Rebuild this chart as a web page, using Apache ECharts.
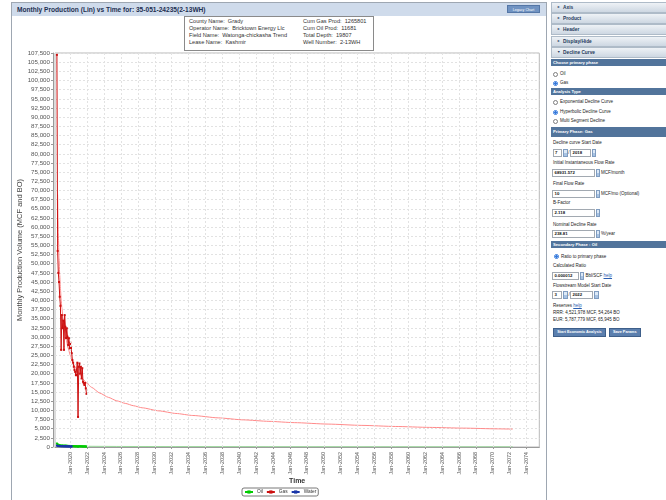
<!DOCTYPE html>
<html><head><meta charset="utf-8">
<script src="https://cdn.jsdelivr.net/npm/echarts@6/dist/echarts.min.js"></script>
<style>
body{margin:0;width:666px;height:500px;overflow:hidden;background:#fff;font-family:'Liberation Sans',Arial,sans-serif;position:relative}
.a{position:absolute;white-space:nowrap}
#panel{left:11px;top:2px;width:534px;height:520px;border:1px solid #9ea7b2;z-index:0}
#chart{left:0;top:0;width:548px;height:500px;z-index:1}
#hdr{left:12px;top:3px;width:534px;height:13px;background:#cfdbeb;z-index:2}
#title{left:17px;top:3px;line-height:13px;font-size:6.6px;font-weight:bold;color:#1d2f52;z-index:3}
#legacy{left:507px;top:5px;width:33px;height:8px;background:#7093c2;color:#fff;font-size:3.6px;line-height:8px;text-align:center;border:1px solid #5476a6;box-sizing:border-box;z-index:3}
#info{left:184px;top:16px;width:188px;height:33px;border:1px solid #8a8a8a;background:#fff;z-index:3}
.it{position:absolute;font-size:5.6px;color:#333;white-space:pre;line-height:7px}
.acc{position:absolute;left:551px;width:116px;height:11px;box-sizing:border-box;border:1px solid #aebbc8;background:linear-gradient(#eef2f6,#cdd7e2);font-size:4.8px;font-weight:bold;color:#253a5a;line-height:9px;z-index:3}
.acc .ar{position:absolute;left:5px;font-size:3.5px}
.acc .tx{position:absolute;left:11px}
.sec{position:absolute;left:551px;width:116px;height:7px;background:#52749b;color:#fff;font-size:4.2px;font-weight:bold;line-height:7px;padding-left:2px;box-sizing:border-box;z-index:3}
.t{position:absolute;font-size:4.5px;color:#222;line-height:8px;height:8px;white-space:nowrap;z-index:3}
.rd{position:absolute;width:5px;height:5px;border-radius:50%;border:0.8px solid #7d7d7d;box-sizing:border-box;background:#fff;z-index:3}
.rd.on{border:1px solid #3479dc;background:radial-gradient(circle,#3479dc 0 1.2px,#fff 1.3px)}
.in{position:absolute;height:8px;box-sizing:border-box;border:1px solid #a2a9b1;background:#fff;font-size:4.3px;font-weight:bold;line-height:6px;padding-left:1.5px;color:#111;z-index:3}
.sp{position:absolute;width:4.5px;height:8px;box-sizing:border-box;border:0.8px solid #7f9cc0;background:linear-gradient(#dce9f7 50%,#a8c3e3 50%);z-index:3}
.hl{color:#2a5db0;text-decoration:underline}
.btn{position:absolute;height:9px;box-sizing:border-box;background:#5b7fae;border:1px solid #3e5f8a;color:#fff;font-size:3.8px;font-weight:bold;line-height:7px;text-align:center;z-index:3}
</style>
</head><body>
<div id="panel" class="a"></div>
<div id="chart" class="a"></div>
<div id="hdr" class="a"></div>
<div id="title" class="a">Monthly Production (Lin) vs Time for: 35-051-24235(2-13WH)</div>
<div id="legacy" class="a">Legacy Chart</div>
<div id="info" class="a">
 <div class="it" style="left:4px;top:1px">County Name:  Grady</div>
 <div class="it" style="left:4px;top:8px">Operator Name:  Bricktown Energy Llc</div>
 <div class="it" style="left:4px;top:15px">Field Name:  Watonga-chickasha Trend</div>
 <div class="it" style="left:4px;top:22px">Lease Name:  Kashmir</div>
 <div class="it" style="left:118px;top:1px">Cum Gas Prod:  1265801</div>
 <div class="it" style="left:118px;top:8px">Cum Oil Prod:  11681</div>
 <div class="it" style="left:118px;top:15px">Total Depth:  19807</div>
 <div class="it" style="left:118px;top:22px">Well Number:  2-13WH</div>
</div>

<div class="acc" style="top:2px"><span class="ar">►</span><span class="tx">Axis</span></div>
<div class="acc" style="top:13.2px"><span class="ar">►</span><span class="tx">Product</span></div>
<div class="acc" style="top:24.4px"><span class="ar">►</span><span class="tx">Header</span></div>
<div class="acc" style="top:35.6px"><span class="ar">►</span><span class="tx">Display/Hide</span></div>
<div class="acc" style="top:46.8px"><span class="ar">▼</span><span class="tx">Decline Curve</span></div>

<div class="sec" style="top:59px">Choose primary phase</div>
<div class="rd" style="left:553.3px;top:71.5px"></div><div class="t" style="left:560px;top:70px">Oil</div>
<div class="rd on" style="left:553.3px;top:80.8px"></div><div class="t" style="left:560px;top:79.3px">Gas</div>
<div class="sec" style="top:87.5px">Analysis Type</div>
<div class="rd" style="left:553.3px;top:99.5px"></div><div class="t" style="left:560px;top:98px">Exponential Decline Curve</div>
<div class="rd on" style="left:553.3px;top:109.5px"></div><div class="t" style="left:560px;top:108px">Hyperbolic Decline Curve</div>
<div class="rd" style="left:553.3px;top:118.5px"></div><div class="t" style="left:560px;top:117px">Multi Segment Decline</div>
<div class="sec" style="top:127px;height:9.5px;line-height:9.5px">Primary Phase: Gas</div>
<div class="t" style="left:553px;top:138.7px">Decline curve Start Date</div>
<div class="in" style="left:552.5px;top:148.7px;width:9.5px">7</div><div class="sp" style="left:563px;top:148.7px"></div>
<div class="t" style="left:568.3px;top:148.7px">/</div>
<div class="in" style="left:570px;top:148.7px;width:20.5px">2018</div><div class="sp" style="left:591.5px;top:148.7px"></div>
<div class="t" style="left:553px;top:159px">Initial Instantaneous Flow Rate</div>
<div class="in" style="left:552px;top:169.3px;width:43px">68931.572</div><div class="sp" style="left:595.5px;top:169.3px"></div>
<div class="t" style="left:601px;top:169.3px">MCF/month</div>
<div class="t" style="left:553px;top:180.3px">Final Flow Rate</div>
<div class="in" style="left:552px;top:189.5px;width:43px">10</div><div class="sp" style="left:595.5px;top:189.5px"></div>
<div class="t" style="left:601px;top:189.5px">MCF/mo (Optional)</div>
<div class="t" style="left:553px;top:199px">B-Factor</div>
<div class="in" style="left:552px;top:208.5px;width:43px">2.118</div><div class="sp" style="left:595.5px;top:208.5px"></div>
<div class="t" style="left:553px;top:220.5px">Nominal Decline Rate</div>
<div class="in" style="left:552px;top:230px;width:43px">238.81</div><div class="sp" style="left:595.5px;top:230px"></div>
<div class="t" style="left:601px;top:230px">%/year</div>
<div class="sec" style="top:240.5px">Secondary Phase : Oil</div>
<div class="rd on" style="left:554px;top:254.2px"></div><div class="t" style="left:561px;top:252.7px">Ratio to primary phase</div>
<div class="t" style="left:553px;top:262px">Calculated Ratio</div>
<div class="in" style="left:552px;top:272px;width:26.5px">0.000012</div><div class="sp" style="left:579.5px;top:272px"></div>
<div class="t" style="left:585.5px;top:272px">Bbl/SCF <span class="hl">help</span></div>
<div class="t" style="left:553px;top:282px">Flowstream Model Start Date</div>
<div class="in" style="left:552px;top:291.3px;width:10px">3</div><div class="sp" style="left:563px;top:291.3px"></div>
<div class="t" style="left:568.5px;top:291.3px">/</div>
<div class="in" style="left:570px;top:291.3px;width:23px">2022</div><div class="sp" style="left:594px;top:291.3px"></div>
<div class="t" style="left:553px;top:301.7px">Reserves <span class="hl">help</span></div>
<div class="t" style="left:553px;top:308.7px">RRR: 4,521,978 MCF, 54,264 BO</div>
<div class="t" style="left:553px;top:316px">EUR: 5,787,779 MCF, 65,945 BO</div>
<div class="btn" style="left:553px;top:328px;width:53px">Start Economic Analysis</div>
<div class="btn" style="left:609px;top:328px;width:31.5px">Save Params</div>

<script>
// ---- data ----
const gasDates = ['2018-06','2018-07','2018-08','2018-09','2018-10','2018-11','2018-12','2019-01','2019-02','2019-03','2019-04','2019-05','2019-06','2019-07','2019-08','2019-09','2019-10','2019-11','2019-12','2020-01','2020-02','2020-03','2020-04','2020-05','2020-06','2020-07','2020-08','2020-09','2020-10','2020-11','2020-12','2021-01','2021-02','2021-03','2021-04','2021-05','2021-06','2021-07','2021-08','2021-09','2021-10','2021-11','2021-12'];
const gasValues = [107000,53500,47500,45000,41000,38500,26500,36000,32400,34500,26500,36000,32800,29700,32400,30100,27800,29700,26900,28500,27000,25600,23700,23000,21900,21000,20500,19600,19600,23000,8200,21900,22800,20000,21900,18700,21500,17800,17400,16900,17500,16000,14500];

const oilDates = gasDates;
const oilValues = [950,720,610,540,480,420,300,400,360,370,290,380,350,330,330,310,290,280,300,280,260,270,250,240,230,210,200,195,190,210,90,220,200,210,180,200,170,160,160,165,150,140,130];

const waterDates = ['2018-06','2018-07','2018-08','2018-09','2018-10','2018-11','2018-12','2019-01','2019-02','2019-03','2019-04','2019-05','2019-06','2019-07','2019-08','2019-09','2019-10','2019-11','2019-12','2020-01','2020-02','2020-03'];
const waterValues = [400,300,280,260,250,240,230,220,220,210,200,200,190,190,180,180,170,170,170,160,160,150];

const gasFcstDates = ['2018-07','2018-08','2018-09','2018-10','2018-11','2018-12','2019-01','2019-03','2019-05','2019-07','2019-10','2020-01','2020-04','2020-07','2021-01','2021-07','2022-01','2022-07','2023-07','2024-07','2025-07','2026-07','2027-07','2028-07','2030-07','2032-07','2034-07','2037-07','2040-07','2043-07','2046-07','2050-07','2054-07','2058-07','2062-07','2066-07','2070-07','2072-05'];
const gasFcstValues = [68900,58400,51650,46850,43200,40350,38000,34350,31600,29450,26900,25000,23400,22100,20050,18500,17300,16300,14700,13550,12600,11900,11250,10700,9850,9150,8600,7950,7400,7000,6650,6250,5900,5600,5350,5150,4950,4880];

const oilFcstDates = ['2022-03','2025-07','2032-07','2043-07','2058-07','2072-05'];
const oilFcstValues = [200,150,110,84,67,59];

const xTickYears = [2020,2022,2024,2026,2028,2030,2032,2034,2036,2038,2040,2042,2044,2046,2048,2050,2052,2054,2056,2058,2060,2062,2064,2066,2068,2070,2072,2074];
const legendNames = ['Oil','Gas','Water'];

// ---- build ----
const toYear = s => { const p = s.split('-').map(Number); return p[0] + (p[1]-1)/12; };
const pairs = (d, v) => d.map((s, i) => [toYear(s), v[i]]);

const chart = echarts.init(document.getElementById('chart'), null, {renderer:'canvas'});
const ff = "'Liberation Sans', Arial, sans-serif";
const gridLine = {color:'#e2e2e2', type:[2,2], width:1};
chart.setOption({
  animation:false,
  textStyle:{fontFamily:ff},
  grid:{left:55, top:53, right:8.7, bottom:53, show:true, borderColor:'#b8b8b8', borderWidth:1, containLabel:false},
  legend:{data:legendNames, left:242, top:488, itemWidth:8, itemHeight:4, itemGap:3, padding:[1.5,2,1.5,2],
    borderColor:'#555', borderWidth:0.8, borderRadius:2,
    textStyle:{fontSize:4.8, color:'#333', fontFamily:ff, padding:[0,0,0,-1]}},
  xAxis:{type:'value', min:2018.19, max:2075.49, offset:2,
    name:'Time', nameLocation:'middle', nameGap:29, nameMoveOverlap:false,
    nameTextStyle:{fontSize:7, fontWeight:'bold', color:'#333', fontFamily:ff},
    axisLine:{show:true, lineStyle:{color:'#9a9a9a', width:1}},
    axisTick:{show:true, length:2, customValues:xTickYears, lineStyle:{color:'#999'}},
    axisLabel:{customValues:xTickYears, rotate:90, fontSize:5.4, color:'#555', margin:3, formatter:v => 'Jan-' + v},
    splitLine:{show:false}},
  yAxis:{type:'value', min:0, max:107500, interval:2500, offset:2,
    name:'Monthly Production Volume (MCF and BO)', nameLocation:'middle', nameGap:29, nameMoveOverlap:false,
    nameTextStyle:{fontSize:7.5, color:'#444', fontFamily:ff},
    axisLine:{show:true, lineStyle:{color:'#9a9a9a', width:1}},
    axisTick:{show:true, length:2, lineStyle:{color:'#999'}},
    axisLabel:{fontSize:6.2, color:'#555', margin:3, formatter:v => v.toLocaleString('en-US')},
    splitLine:{show:true, lineStyle:gridLine}},
  series:[
    {name:'grid', type:'line', data:[], z:0, silent:true,
      markLine:{silent:true, symbol:['none','none'], label:{show:false}, lineStyle:gridLine, animation:false,
        emphasis:{disabled:true}, data:xTickYears.map(v => ({xAxis:v}))}},
    {name:'Gas Forecast', type:'line', data:pairs(gasFcstDates, gasFcstValues), smooth:0.2, smoothMonotone:'x',
      showSymbol:false, color:'#ff8a8a', lineStyle:{width:1}, z:2},
    {name:'Oil Forecast', type:'line', data:pairs(oilFcstDates, oilFcstValues), showSymbol:false,
      color:'#9ad89a', lineStyle:{width:1}, z:2},
    {name:'Oil', type:'line', data:pairs(oilDates, oilValues), symbol:'rect', symbolSize:2, color:'#00cc00', lineStyle:{width:1}, z:3},
    {name:'Gas', type:'line', data:pairs(gasDates, gasValues), symbol:'rect', symbolSize:2, color:'#cc1010', lineStyle:{width:1}, z:4},
    {name:'Water', type:'line', data:pairs(waterDates, waterValues), symbol:'rect', symbolSize:2, color:'#1a36a8', lineStyle:{width:1}, z:5}
  ]
});
</script>
</body></html>
